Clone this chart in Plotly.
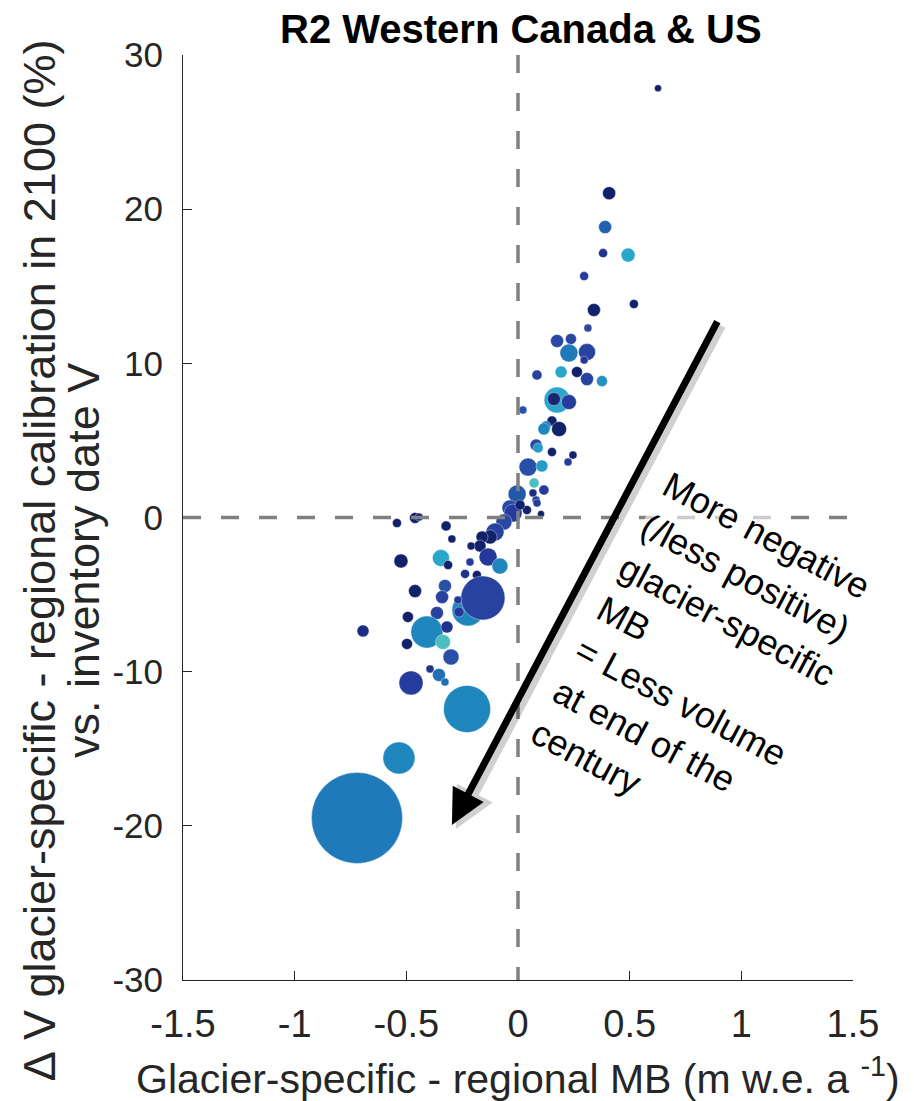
import plotly.graph_objects as go

# Glacier-specific minus regional MB (m w.e. a-1)
mb_diff = [0.627, 0.408, 0.390, 0.381, 0.493, 0.296, 0.519, 0.340, 0.313, 0.237,
           0.175, 0.228, 0.309, 0.296, 0.085, 0.193, 0.264, 0.309, 0.376, 0.175,
           0.228, 0.161, 0.022, 0.152, 0.125, 0.116, 0.184, 0.081, 0.090, 0.152,
           0.246, 0.224, 0.045, 0.107, 0.072, 0.116, -0.004, 0.067, 0.081, -0.036,
           -0.022, 0.040, 0.103, -0.063, -0.103, -0.125, -0.161, -0.170, -0.210, -0.542,
           -0.461, -0.443, -0.322, -0.296, -0.134, -0.081, -0.524, -0.345, -0.313, -0.215,
           -0.237, -0.184, -0.461, -0.327, -0.340, -0.224, -0.157, -0.269, -0.264, -0.493,
           -0.363, -0.408, -0.318, -0.336, -0.497, -0.694, -0.300, -0.394, -0.354, -0.327,
           -0.479, -0.228, -0.533, -0.721, 0.009, 0.085]
# Delta V (%) in 2100
dv_pct = [27.85, 21.04, 18.84, 17.15, 17.02, 15.66, 13.85, 13.46, 12.29, 11.58,
          11.45, 10.67, 10.73, 10.21, 9.24, 9.44, 9.44, 8.98, 8.85, 7.62,
          7.49, 7.68, 6.97, 6.26, 5.93, 5.74, 5.74, 4.70, 4.51, 4.25,
          4.05, 3.60, 3.27, 3.34, 2.24, 1.78, 1.52, 1.59, 1.13, 0.62,
          0.29, 0.49, 0.23, -0.29, -0.94, -1.26, -1.26, -1.85, -1.85, -0.36,
          -0.03, 0.03, -0.55, -1.39, -2.56, -3.15, -2.82, -2.63, -3.08, -2.89,
          -3.66, -3.73, -4.77, -4.44, -5.16, -6.00, -5.22, -5.35, -6.13, -6.45,
          -6.19, -7.43, -7.10, -8.07, -8.20, -7.36, -9.05, -9.82, -10.21, -10.67,
          -10.73, -12.42, -15.60, -19.49, 0.81, 0.94]
# bubble size (glacier area proxy, marker diameter)
bubble = [7, 13, 13, 9, 14, 9, 9, 13, 8, 11,
          13, 18, 17, 8, 10, 12, 11, 13, 11, 26,
          15, 13, 8, 10, 10, 12, 15, 12, 10, 9,
          8, 8, 18, 12, 10, 10, 18, 8, 8, 16,
          18, 9, 7, 16, 18, 14, 12, 12, 8, 9,
          11, 8, 10, 8, 18, 16, 14, 17, 9, 8,
          9, 9, 13, 13, 13, 32, 44, 8, 10, 11,
          13, 32, 12, 15, 11, 12, 16, 8, 13, 8,
          24, 47, 32, 91, 10, 8]
# colour variable
cval = [0.05, 0.05, 0.55, 0.2, 0.85, 0.3, 0.05, 0.05, 0.4, 0.4,
        0.4, 0.65, 0.35, 0.25, 0.35, 0.85, 0.05, 0.35, 0.75, 0.85,
        0.3, 0.1, 0.45, 0.05, 0.65, 0.7, 0.05, 0.4, 0.8, 0.05,
        0.05, 0.3, 0.45, 0.8, 1.0, 0.3, 0.5, 0.15, 0.3, 0.4,
        0.3, 0.05, 0.05, 0.4, 0.35, 0.05, 0.05, 0.05, 0.05, 0.05,
        0.05, 0.1, 0.05, 0.05, 0.25, 0.7, 0.05, 0.85, 0.05, 0.3,
        0.2, 0.05, 0.05, 0.45, 0.35, 0.7, 0.35, 0.25, 0.25, 0.05,
        0.35, 0.7, 0.2, 1.0, 0.05, 0.15, 0.45, 0.2, 0.6, 0.6,
        0.3, 0.7, 0.7, 0.65, 0.05, 0.3]

x_ticks = [-1.5, -1, -0.5, 0, 0.5, 1, 1.5]
x_ticktext = ["-1.5", "-1", "-0.5", "0", "0.5", "1", "1.5"]
y_ticks = [-30, -20, -10, 0, 10, 20, 30]
y_ticktext = ["-30", "-20", "-10", "0", "10", "20", "30"]

colorscale = [[0.0, "#0e1d5e"], [0.25, "#24379a"], [0.4, "#2a47a3"],
              [0.55, "#2162ae"], [0.7, "#1f86be"], [0.85, "#2aa6c8"], [1.0, "#4dbfc2"]]

FONT = "Liberation Sans, Arial, sans-serif"
AX = "#262626"

fig = go.Figure()
fig.add_trace(go.Scatter(
    x=mb_diff, y=dv_pct, mode="markers",
    marker=dict(size=bubble, sizemode="diameter", color=cval, colorscale=colorscale,
                cmin=0, cmax=1, opacity=1,
                line=dict(width=0.6, color="rgba(255,255,255,0.6)")),
    showlegend=False, hoverinfo="x+y"))

dash = "18px,20px"
fig.add_shape(type="line", x0=0, x1=0, y0=30, y1=-30, xref="x", yref="y",
              line=dict(color="#808080", width=3.5, dash=dash), layer="above")
fig.add_shape(type="line", x0=-1.5, x1=1.5, y0=0, y1=0, xref="x", yref="y",
              line=dict(color="#808080", width=3.5, dash=dash), layer="above")

ann = []
# rotated explanatory text
ann.append(dict(x=0.839, y=-9.37, xref="x", yref="y", showarrow=False,
                text="More negative<br>(/less positive)<br>glacier-specific<br>MB<br>= Less volume<br>at end of the<br>century",
                textangle=28, align="left", xanchor="center", yanchor="middle",
                bgcolor="rgba(255,255,255,0.6)",
                font=dict(family=FONT, size=36, color="black")))
# arrow shadow
ann.append(dict(x=-0.296, y=-19.94, ax=0.896, ay=12.8, xref="x", yref="y",
                axref="x", ayref="y", text="", showarrow=True, arrowhead=2,
                arrowsize=0.9, arrowwidth=9, arrowcolor="rgba(0,0,0,0.18)",
                xshift=4, yshift=-4))
# arrow
ann.append(dict(x=-0.296, y=-19.94, ax=0.896, ay=12.8, xref="x", yref="y",
                axref="x", ayref="y", text="", showarrow=True, arrowhead=2,
                arrowsize=1.0, arrowwidth=7, arrowcolor="black"))
# title
ann.append(dict(x=0.5045, y=1.0285, xref="paper", yref="paper", yanchor="middle",
                xanchor="center", showarrow=False,
                text="<b>R2 Western Canada & US</b>",
                font=dict(family=FONT, size=40, color="black")))
# y-axis title (two lines)
ann.append(dict(x=-0.2149, y=0.454, xref="paper", yref="paper", showarrow=False,
                textangle=-90, xanchor="center", yanchor="middle",
                text="∆ V glacier-specific - regional calibration in 2100 (%)",
                font=dict(family=FONT, size=45, color=AX)))
ann.append(dict(x=-0.1493, y=0.454, xref="paper", yref="paper", showarrow=False,
                textangle=-90, xanchor="center", yanchor="middle",
                text="vs. inventory date V",
                font=dict(family=FONT, size=45, color=AX)))
# x-axis title
ann.append(dict(x=0.5, y=-0.1035, xref="paper", yref="paper", showarrow=False,
                xanchor="center", yanchor="middle",
                text="Glacier-specific - regional MB (m w.e. a <sup>-1</sup>)",
                font=dict(family=FONT, size=41, color=AX)))

fig.update_layout(
    width=906, height=1093,
    margin=dict(l=175, r=61, t=47, b=121, autoexpand=False),
    paper_bgcolor="white", plot_bgcolor="white",
    annotations=ann,
    xaxis=dict(range=[-1.5, 1.5], tickvals=x_ticks, ticktext=x_ticktext,
               ticks="inside", ticklen=9, tickwidth=1, tickcolor=AX,
               showline=True, linecolor=AX, linewidth=1, mirror=False,
               showgrid=False, zeroline=False, automargin=False,
               ticklabelstandoff=10,
               tickfont=dict(family=FONT, size=38, color=AX)),
    yaxis=dict(range=[-30, 30], tickvals=y_ticks, ticktext=y_ticktext,
               ticks="inside", ticklen=9, tickwidth=1, tickcolor=AX,
               showline=True, linecolor=AX, linewidth=1, mirror=False,
               showgrid=False, zeroline=False, automargin=False,
               ticklabelstandoff=12,
               tickfont=dict(family=FONT, size=35, color=AX)),
)

fig.write_html("out.html")
